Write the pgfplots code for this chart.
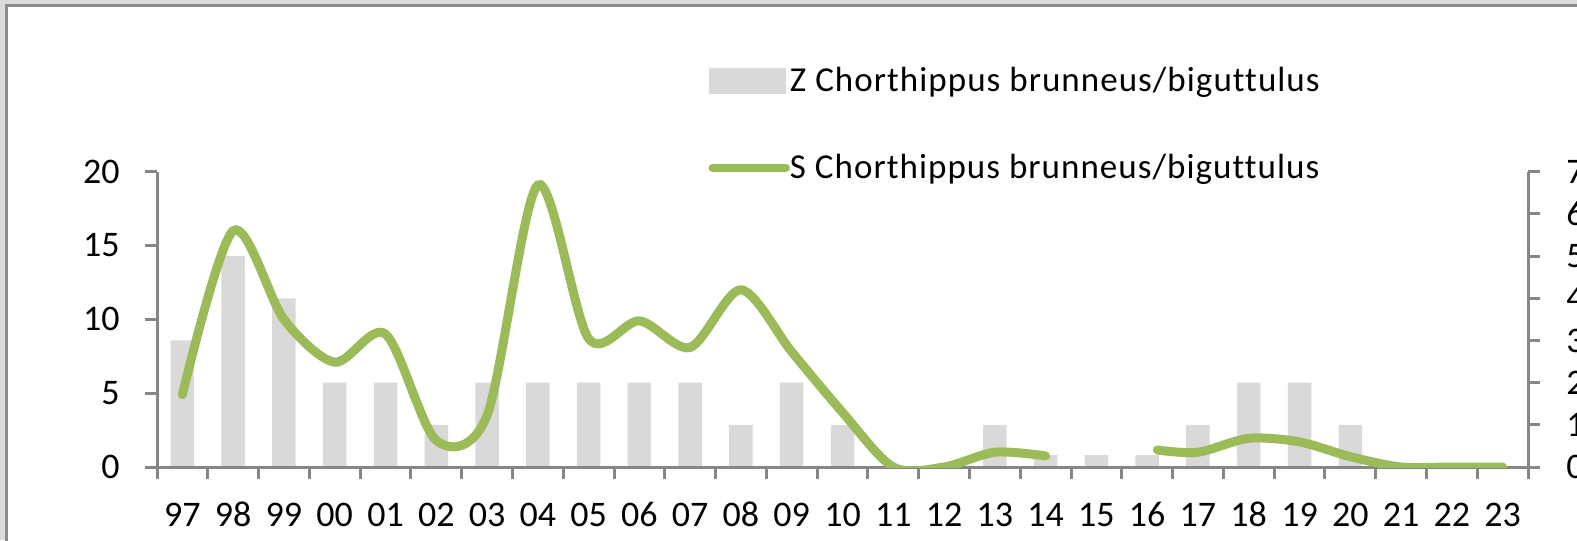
\documentclass[border=0pt]{standalone}
\usepackage{pgfplots}
\pgfplotsset{compat=1.18}
\usepackage{pgfplotstable}
\usepackage{fontspec}
\setmainfont{Carlito}[Ligatures={NoCommon}]
\newfontfamily\legfont{Carlito}[Ligatures={NoCommon}, LetterSpace=3]
\definecolor{barcol}{HTML}{D9D9D9}
\definecolor{linecol}{HTML}{9BBB59}
\definecolor{axcol}{HTML}{868686}
\definecolor{outcol}{HTML}{DCDCDC}
\definecolor{brdcol}{HTML}{8C8C8C}

\pgfplotstableread{
x z
0 3
1 5
2 4
3 2
4 2
5 1
6 2
7 2
8 2
9 2
10 2
11 1
12 2
13 1
14 0
15 0
16 1
17 0.28
18 0.28
19 0.28
20 1
21 2
22 2
23 1
24 0
25 0
26 0
}\bars

\pgfplotstableread{
x s
0 4.9
1 16.0
2 10.0
3 7.1
4 9.0
5 1.8
6 3.5
7 19.1
8 8.7
9 9.9
10 8.1
11 12.0
12 7.8
13 3.7
14 0
15 0
16 1.0
17 0.75
18 nan
19.2 1.15
20 1.0
21 1.94
22 1.7
23 0.7
24 0
25 0
26 0
}\sline

\begin{document}
\begin{tikzpicture}
\useasboundingbox (0,0) rectangle (788.5pt,-270pt);
\fill[outcol] (0,0) rectangle (788.5pt,-270pt);
\fill[brdcol] (2.5pt,-2pt) rectangle (790pt,-272pt);
\fill[white] (4pt,-3.5pt) rectangle (790pt,-272pt);

\pgfplotsset{common/.style={
  scale only axis, width=685.5pt, height=147.65pt,
  at={(78.5pt,-233.5pt)}, anchor=south west,
  xmin=-0.5, xmax=26.5,
  axis line style={-, axcol, line width=1.5pt},
  tick style={axcol, line width=1.5pt},
  major tick length=6pt, minor tick length=6pt, tick align=outside,
  font=\fontsize{18}{21}\selectfont,
  /pgf/number format/assume math mode=true,
}}

\begin{axis}[common,
  ymin=0, ymax=7, ytick={0,1,...,7},
  axis y line*=right, axis x line=none,
  yticklabel style={anchor=west, inner sep=0pt, xshift=13pt},
]
\addplot[ybar, bar width=11.75pt, fill=barcol, draw=none] table[x=x,y=z] {\bars};
\end{axis}

\begin{axis}[common,
  ymin=0, ymax=20, ytick={0,5,...,20},
  axis y line*=left, axis x line*=bottom,
  xtick={0,1,...,26},
  xticklabels={97,98,99,00,01,02,03,04,05,06,07,08,09,10,11,12,13,14,15,16,17,18,19,20,21,22,23},
  major x tick style={draw=none},
  minor xtick={-0.5,0.5,...,26.5},
  yticklabel style={anchor=east, inner sep=0pt, xshift=-12.5pt},
  xticklabel style={anchor=base, inner sep=0pt, yshift=-23.5pt},
  legend style={at={(0.4019,1.37)}, anchor=north west, draw=none, fill=none,
    inner sep=0pt, row sep=26pt, column sep=-2pt,
    font=\legfont\fontsize{17.5}{20}\selectfont, cells={anchor=west}},
]
\addlegendimage{legend image code/.code={\fill[barcol] (0pt,-6.25pt) rectangle (38pt,6.25pt);}}
\addlegendentry{Z Chorthippus brunneus/biguttulus}
\addplot[linecol, line width=4.5pt, smooth, line cap=round, unbounded coords=jump,
  legend image code/.code={\draw[linecol, line width=4.25pt, line cap=round] (1.5pt,0pt) -- (38pt,0pt);}]
  table[x=x,y=s] {\sline};
\addlegendentry{S Chorthippus brunneus/biguttulus}
\end{axis}
\end{tikzpicture}
\end{document}
